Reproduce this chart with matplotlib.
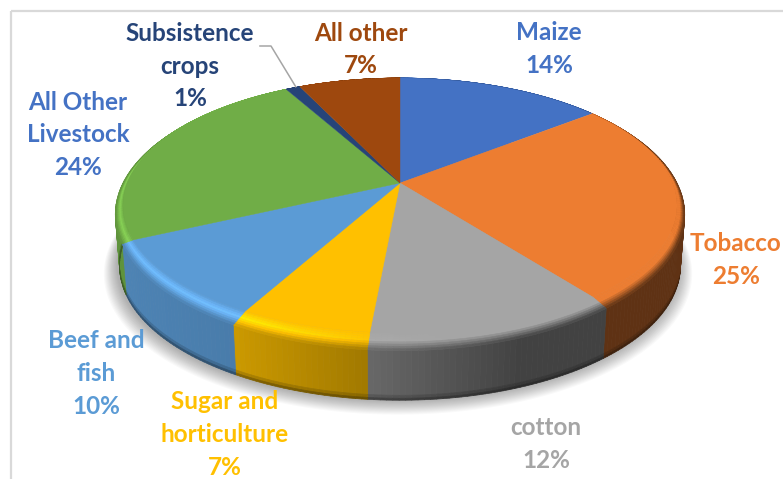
import numpy as np
import matplotlib
matplotlib.use('Agg')
import matplotlib.pyplot as plt
from matplotlib.collections import PolyCollection
from matplotlib.colors import to_rgb
from matplotlib.patches import Rectangle

# slice values, the labels only show them rounded
names = ['Maize', 'Tobacco', 'cotton', 'Sugar and\nhorticulture', 'Beef and\nfish',
         'All Other\nLivestock', 'Subsistence\ncrops', 'All other']
values = [14.3, 25.3, 11.85, 6.52, 10.03, 24.0, 1.0, 7.0]

slice_colors = ['#4472c4', '#ed7d31', '#a5a5a5', '#ffc000', '#5b9bd5',
                '#70ad47', '#264478', '#9e480e']
label_colors = ['#4472c4', '#ed7d31', '#a5a5a5', '#ffc000', '#5b9bd5',
                '#4472c4', '#264478', '#9e480e']
label_x = [549, 736, 546, 225, 96, 78, 190, 361]
label_y = [49, 260, 444, 434.5, 373.5, 135, 66, 49.5]

plt.rcParams['font.family'] = ['Lato', 'DejaVu Sans']

fig = plt.figure(figsize=(7.83, 4.79), dpi=100)
ax = fig.add_axes([0, 0, 1, 1])
ax.set_xlim(0, 783)
ax.set_ylim(479, 0)
ax.axis('off')

ax.add_patch(Rectangle((11, 11), 900, 600, fill=False, edgecolor='#d9d9d9', linewidth=1.6))

CX, CY = 400, 183


# perspective circle: the back of the disc looks smaller than the front
def flat(t, r=1.0):
    u, v = np.sin(t) * r, np.cos(t) * r
    w = 1 + 0.176 * v
    return CX + 272.7 * u / w, CY - 123.5 * v / w


def rim(t):
    u, v = np.sin(t), np.cos(t)
    w = 1 + 0.231 * v
    return CX + 277 * u / w, CY - 129 * v / w


def base(t):
    x, y = rim(t)
    return CX + (x - CX) * 0.985, CY + 52 + (y - CY) * 0.985


# shadow under the pie
all_t = np.linspace(0, 2 * np.pi, 361)
bx, by = base(all_t)
for i in range(14, 0, -1):
    s = 1 + i * 0.0035
    ax.fill(CX + (bx - CX) * s - 2, CY + 52 + (by - CY - 52) * s + i * 0.45,
            color='black', alpha=0.024, linewidth=0, zorder=1)

edges = np.cumsum([0] + values) / np.sum(values) * 2 * np.pi

polys = []
cols = []
for i in range(len(values)):
    c = np.array(to_rgb(slice_colors[i]))
    n = max(2, int((edges[i + 1] - edges[i]) / np.radians(1)))
    ts = np.linspace(edges[i], edges[i + 1], n + 1)
    for t0, t1 in zip(ts[:-1], ts[1:]):
        tm = (t0 + t1) / 2
        xm = rim(tm)[0]
        if np.cos(tm) > 0.35:
            continue
        shade = np.interp(xm, [115, 233, 368, 520, 685], [0.85, 0.80, 0.63, 0.40, 0.40])
        wall = c * shade
        # wall, darker just above the bottom edge
        for a, b, dark in [(0, 0.9, 1.0), (0.9, 0.96, 0.85), (0.96, 1.0, 0.65)]:
            p0, p1 = rim(np.array([t0, t1])), base(np.array([t0, t1]))
            xa = p0[0] + (p1[0] - p0[0]) * a
            ya = p0[1] + (p1[1] - p0[1]) * a
            xb = p0[0] + (p1[0] - p0[0]) * b
            yb = p0[1] + (p1[1] - p0[1]) * b
            polys.append([(xa[0], ya[0]), (xa[1], ya[1]), (xb[1], yb[1]), (xb[0], yb[0])])
            cols.append(wall * dark)
ax.add_collection(PolyCollection(polys, facecolors=cols, edgecolors=cols, linewidths=0.5, zorder=2))

# rounded edge between top face and wall, then the flat top face
polys = []
cols = []
bands = np.linspace(0, 1, 9)
for i in range(len(values)):
    c = np.array(to_rgb(slice_colors[i]))
    n = max(2, int((edges[i + 1] - edges[i]) / np.radians(1)))
    ts = np.linspace(edges[i], edges[i + 1], n + 1)
    for t0, t1 in zip(ts[:-1], ts[1:]):
        tm = (t0 + t1) / 2
        xm = rim(tm)[0]
        shade = np.interp(xm, [115, 233, 368, 520, 685], [0.85, 0.80, 0.63, 0.40, 0.40])
        glow = np.interp(xm, [115, 233, 368, 450, 685], [0.22, 0.24, 0.03, 0, 0])
        tt = np.array([t0, t1])
        ix, iy = flat(tt)
        ox, oy = rim(tt)
        for a, b in zip(bands[:-1], bands[1:]):
            m = (a + b) / 2
            if m < 0.45:
                col = c * (1 + glow * m / 0.45)
            else:
                q = (m - 0.45) / 0.55
                col = c * (1 + glow) * (1 - q) + c * shade * q
            xa, ya = ix + (ox - ix) * a, iy + (oy - iy) * a
            xb, yb = ix + (ox - ix) * b, iy + (oy - iy) * b
            polys.append([(xa[0], ya[0]), (xa[1], ya[1]), (xb[1], yb[1]), (xb[0], yb[0])])
            cols.append(np.clip(col, 0, 1))
ax.add_collection(PolyCollection(polys, facecolors=cols, edgecolors=cols, linewidths=0.4, zorder=3))

for i in range(len(values)):
    ts = np.linspace(edges[i], edges[i + 1], 80)
    x, y = flat(ts)
    ax.fill(np.r_[CX, x], np.r_[CY, y], color=slice_colors[i], linewidth=0.3, zorder=4)

# leader line of the small slice
lx, ly = rim(np.array([(edges[6] + edges[7]) / 2]))
ax.plot([260, 271, lx[0]], [46, 46, ly[0] - 1], color='#a5a5a5', linewidth=1.1, zorder=5)

for i in range(len(values)):
    txt = names[i] + '\n' + str(round(values[i])) + '%'
    ax.text(label_x[i], label_y[i], txt, color=label_colors[i], fontsize=17.5, fontweight='bold',
            ha='center', va='center', linespacing=1.52, zorder=6)

fig.savefig('out.png', dpi=100)
